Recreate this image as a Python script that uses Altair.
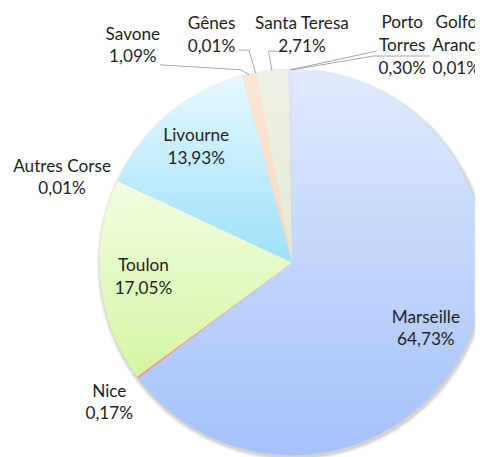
import math
import altair as alt
import pandas as pd

# ---- data ----
names = ["Marseille", "Nice", "Toulon", "Autres Corse", "Livourne",
         "Savone", "Gênes", "Santa Teresa", "Porto Torres", "Golfo Aranci"]
shares = [64.73, 0.17, 17.05, 0.01, 13.93, 1.09, 0.01, 2.71, 0.30, 0.01]
label_names = ["Marseille", "Nice", "Toulon", "Autres Corse", "Livourne",
               "Savone", "Gênes", "Santa Teresa", "Porto\nTorres", "Golfo\nAranci"]

# ---- styles (gradient top / bottom per slice) ----
color_top = ["#e0eafd", "#f6b0a8", "#f2fde2", "#f4c0b0", "#e6f8ff",
             "#fde6d6", "#f8d8c8", "#eef2e6", "#e4e4f4", "#d8d8d8"]
color_bot = ["#a4c1fa", "#f09890", "#d4f5a2", "#e8a090", "#9ce1fc",
             "#fbd6bc", "#f0c8b0", "#e2e9d6", "#d4d4ec", "#c0c0c0"]

# ---- layout (chart pixel coordinates) ----
W, H = 475, 449
CX, CY, R = 289, 255, 196
LR = 152  # radius of inside labels
LINE_H = 23
# outside label block centres (None -> inside label at slice middle)
lab_x = [None, 103, None, 55, None, 127, 207, 299, 401, 456]
lab_y = [None, 398, None, 169, None, 35, 24, 24, 35, 35]
# leader lines: start point and elbow (None -> no leader)
lead_x1 = [None, None, None, None, None, 155, 235, 275, 375, 429]
lead_y1 = [None, None, None, None, None, 54, 39, 40, 40, 45]
lead_x2 = [None, None, None, None, None, 237, 245, 265, 375, 372]
lead_y2 = [None, None, None, None, None, 59, 39, 40, 40, 45]

TOTAL = sum(shares)
pct = [f"{v:.2f}".replace(".", ",") + "%" for v in shares]

df = pd.DataFrame({
    "order": list(range(len(names))),
    "name": names,
    "share": shares,
    "text": [f"{n}\n{p}" for n, p in zip(label_names, pct)],
    "lx": lab_x, "ly": lab_y,
    "x1": lead_x1, "y1": lead_y1, "x2": lead_x2, "y2": lead_y2,
})

base = (
    alt.Chart(df)
    .transform_window(cum="sum(share)", sort=[alt.SortField("order")], frame=[None, 0])
    .transform_calculate(
        start="datum.cum - datum.share",
        mid=f"(datum.cum - datum.share / 2) / {TOTAL} * 2 * PI",
        nl="length(split(datum.text, '\\n'))",
    )
    .transform_calculate(
        ax=f"{CX} + {R} * sin(datum.mid)",
        ay=f"{CY} - {R} * cos(datum.mid)",
        tx=f"isValid(datum.lx) ? datum.lx : {CX} + {LR} * sin(datum.mid)",
        tyc=f"isValid(datum.ly) ? datum.ly : {CY} - {LR} * cos(datum.mid)",
    )
    .transform_calculate(
        ty=f"datum.tyc - (datum.nl - 1) * {LINE_H} / 2",
    )
)

theta_scale = alt.Scale(domain=[0, TOTAL])

# soft shadow
shadow_df = pd.DataFrame({"k": [0]})
shadows = []
for off, op in [(5, 0.03), (4, 0.04), (3, 0.05), (2, 0.06)]:
    shadows.append(
        alt.Chart(shadow_df)
        .mark_arc(radius=R + off - 1, theta=0, theta2=2 * math.pi, color="#000000", opacity=op)
        .encode(x=alt.value(CX + 1), y=alt.value(CY + 2))
    )

slices = []
for i, n in enumerate(names):
    grad = alt.Gradient(
        gradient="linear",
        stops=[alt.GradientStop(color=color_top[i], offset=0),
               alt.GradientStop(color=color_bot[i], offset=1)],
        x1=0, x2=0, y1=0, y2=1,
    )
    slices.append(
        base.transform_filter(alt.datum.name == n)
        .mark_arc(radius=R, fill=grad)
        .encode(
            theta=alt.Theta("start:Q", scale=theta_scale),
            theta2=alt.Theta2("cum:Q"),
            x=alt.value(CX),
            y=alt.value(CY),
        )
    )

lead = base.transform_filter("isValid(datum.x1)")
seg1 = lead.mark_rule(color="#a6a6a6", strokeWidth=1).encode(
    x=alt.X("x1:Q", scale=None), y=alt.Y("y1:Q", scale=None),
    x2="x2:Q", y2="y2:Q",
)
seg2 = lead.mark_rule(color="#a6a6a6", strokeWidth=1).encode(
    x=alt.X("x2:Q", scale=None), y=alt.Y("y2:Q", scale=None),
    x2="ax:Q", y2="ay:Q",
)

labels = base.mark_text(
    font="Lato", fontSize=17.5, lineBreak="\n", lineHeight=LINE_H,
    color="#1f1f1f", align="center", baseline="middle",
).encode(
    x=alt.X("tx:Q", scale=None),
    y=alt.Y("ty:Q", scale=None),
    text="text:N",
)

chart = alt.layer(*shadows, *slices, seg1, seg2, labels).properties(
    width=W, height=H, padding=0,
    autosize=alt.AutoSizeParams(type="none"),
).configure_view(stroke=None)

chart.save("out.html", embed_options={"renderer": "svg", "actions": False})
